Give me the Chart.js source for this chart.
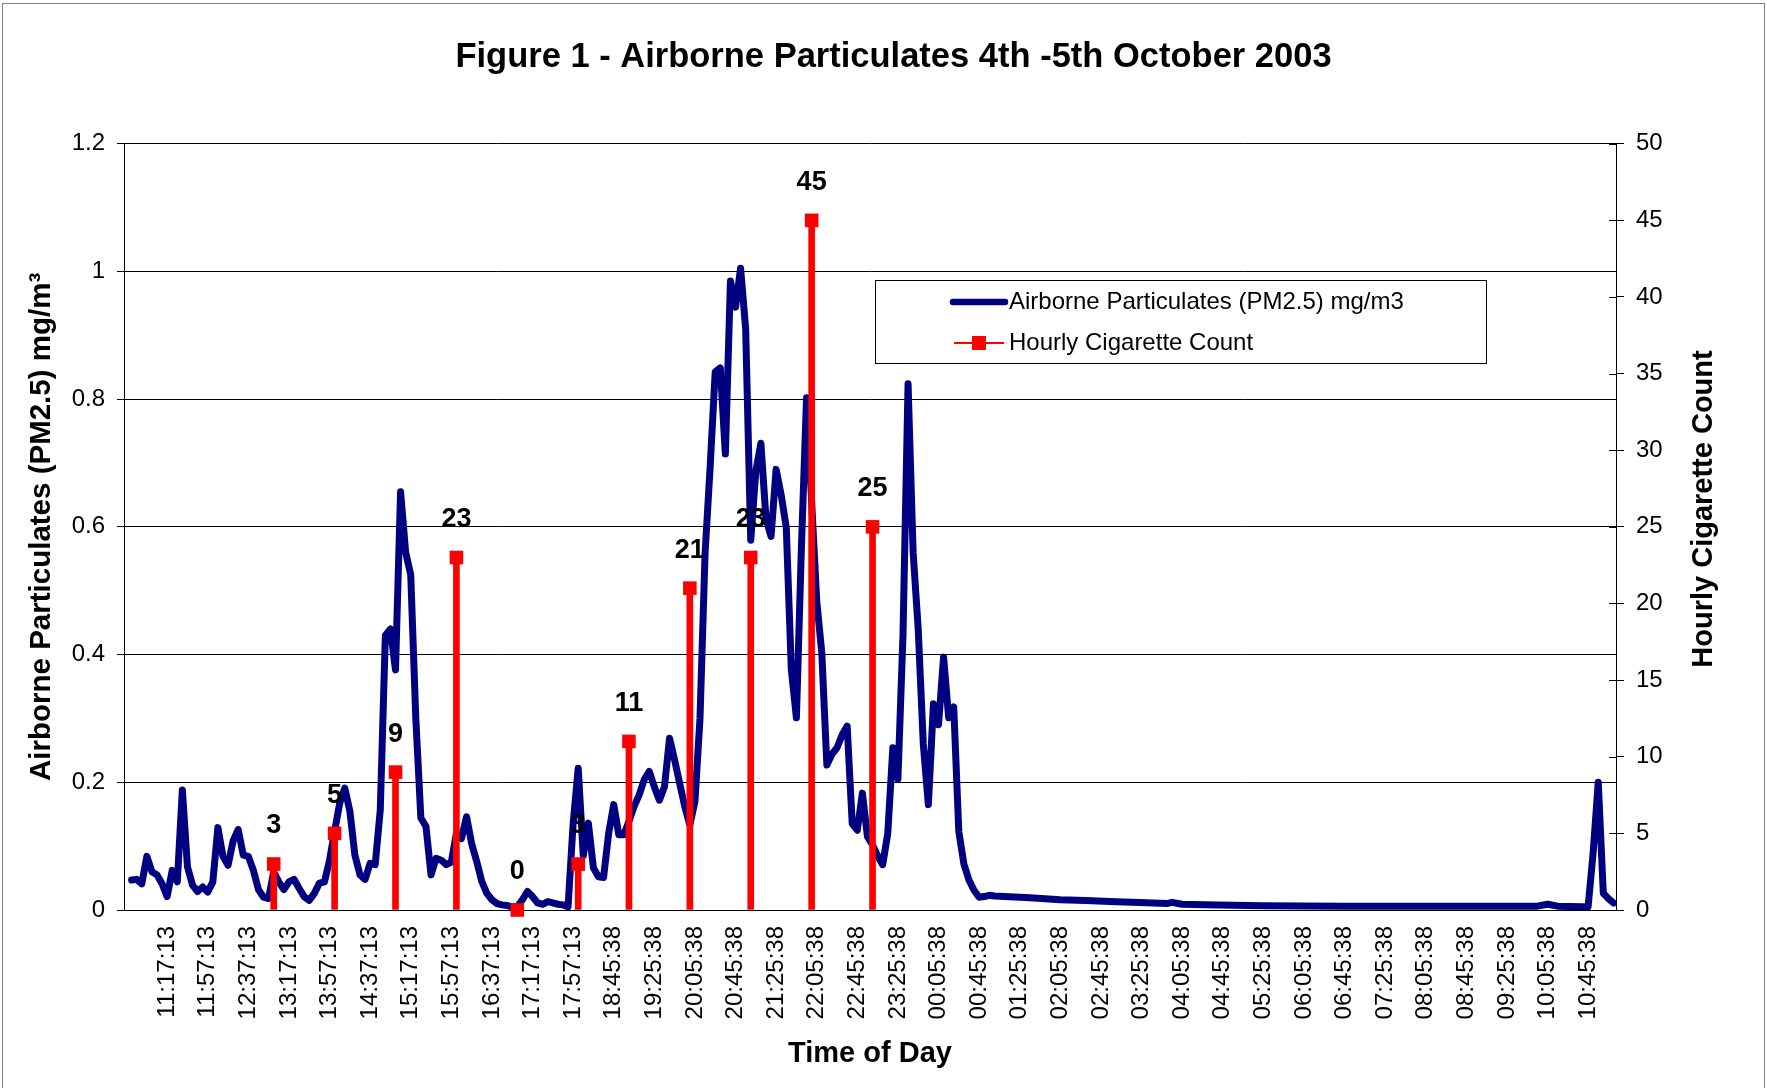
<!DOCTYPE html>
<html>
<head>
<meta charset="utf-8">
<script src="https://cdn.jsdelivr.net/npm/chart.js@4.4.1/dist/chart.umd.min.js"></script>
<style>
html,body{margin:0;padding:0;background:#fff;}
canvas{display:block;}
</style>
</head>
<body>
<canvas id="c" width="1767" height="1088"></canvas>
<script>
// ---------------- DATA ----------------
const chartTitle = 'Figure 1 - Airborne Particulates 4th -5th October 2003';
const pmLabel = 'Airborne Particulates (PM2.5) mg/m3';
const cigLabel = 'Hourly Cigarette Count';

// x-axis tick labels (one every 8 samples, first at sample 8)
const tickLabels = ['11:17:13','11:57:13','12:37:13','13:17:13','13:57:13','14:37:13','15:17:13','15:57:13',
  '16:37:13','17:17:13','17:57:13','18:45:38','19:25:38','20:05:38','20:45:38','21:25:38','22:05:38',
  '22:45:38','23:25:38','00:05:38','00:45:38','01:25:38','02:05:38','02:45:38','03:25:38','04:05:38',
  '04:45:38','05:25:38','06:05:38','06:45:38','07:25:38','08:05:38','08:45:38','09:25:38','10:05:38','10:45:38'];
const sampleCount = 294;
const firstLabelAt = 8;
const labelEvery = 8;

// PM2.5 readings (sample index -> mg/m3)
const pmIndex = [1,2,3,4,5,6,7,8,9,10,11,12,13,14,15,16,17,18,19,20,21,22,23,24,25,26,27,28,29,30,
  31,32,33,34,35,36,37,38,39,40,41,42,43,44,45,46,47,48,49,50,51,52,53,54,55,56,57,58,59,60,
  61,62,63,64,65,66,67,68,69,70,71,72,73,74,75,76,77,78,79,80,81,82,83,84,85,86,87,88,89,90,
  91,92,93,94,95,96,97,98,99,100,101,102,103,104,105,106,107,108,109,110,111,112,113,114,115,116,117,118,119,120,
  121,122,123,124,125,126,127,128,129,130,131,132,133,134,135,136,137,138,139,140,141,142,143,144,145,146,147,148,149,150,
  151,152,153,154,155,156,157,158,159,160,161,162,163,164,165,166,167,168,169,170,171,
  178,184,189,195,201,205,206,208,215,224,240,259,278,280,282,287,288,289,290,291,292,293];
const pmValue = [0.047,0.048,0.041,0.084,0.060,0.055,0.041,0.021,0.062,0.044,0.188,0.068,0.039,0.029,0.036,0.028,0.044,0.129,0.084,0.070,
  0.108,0.126,0.086,0.084,0.062,0.032,0.020,0.018,0.060,0.044,0.032,0.044,0.048,0.034,0.021,0.015,0.026,0.042,0.044,0.078,
  0.123,0.167,0.191,0.155,0.086,0.055,0.048,0.073,0.071,0.157,0.430,0.440,0.376,0.655,0.560,0.525,0.300,0.144,0.131,0.055,
  0.081,0.078,0.071,0.075,0.120,0.112,0.146,0.104,0.076,0.045,0.026,0.016,0.010,0.008,0.007,0.005,0.005,0.016,0.029,0.021,
  0.011,0.009,0.013,0.011,0.009,0.008,0.005,0.135,0.222,0.085,0.136,0.066,0.052,0.051,0.120,0.165,0.118,0.118,0.139,0.162,
  0.180,0.204,0.217,0.193,0.172,0.193,0.269,0.235,0.198,0.162,0.133,0.170,0.300,0.558,0.694,0.843,0.849,0.714,0.985,0.944,
  1.005,0.910,0.579,0.687,0.731,0.613,0.585,0.690,0.650,0.599,0.376,0.301,0.572,0.802,0.640,0.484,0.403,0.227,0.244,0.254,
  0.274,0.288,0.135,0.125,0.183,0.115,0.102,0.085,0.071,0.120,0.254,0.205,0.430,0.824,0.560,0.440,0.260,0.165,0.323,0.290,
  0.396,0.301,0.318,0.123,0.072,0.047,0.031,0.020,0.021,0.023,0.022,
  0.019,0.016,0.015,0.013,0.0115,0.010,0.012,0.009,0.008,0.0067,0.006,0.006,0.006,0.009,0.006,0.005,0.005,0.090,0.200,0.026,0.018,0.011];

// Hourly cigarette counts (sample index -> count)
const cigIndex = [29,41,53,65,77,89,99,111,123,135,147];
const cigCount = [3,5,9,23,0,3,11,21,23,45,25];

// ---------------- STYLE ----------------
const FONT = "'Liberation Sans', Arial, Helvetica, sans-serif";
const NAVY = '#000080';
const RED = '#FF0000';

const pmPoints = pmIndex.map((x, k) => ({x: x, y: pmValue[k]}));
const cigPoints = cigIndex.map((x, k) => ({x: x, y: cigCount[k]}));

const decorPlugin = {
  id: 'decor',
  afterDatasetsDraw(chart) {
    const ctx = chart.ctx;
    const meta = chart.getDatasetMeta(0);
    ctx.save();
    ctx.font = `bold 27px ${FONT}`;
    ctx.fillStyle = '#000';
    ctx.textAlign = 'center';
    ctx.textBaseline = 'middle';
    meta.data.forEach((pt, k) => {
      ctx.fillText(String(cigCount[k]), pt.x, pt.y - 38);
    });
    ctx.restore();
  },
  afterDraw(chart) {
    const ctx = chart.ctx;
    const y1 = chart.scales.y1;
    ctx.save();
    // inner half of the right-axis cross tick marks
    ctx.strokeStyle = '#000';
    ctx.lineWidth = 1;
    y1.ticks.forEach(t => {
      const y = Math.round(y1.getPixelForValue(t.value)) + 0.5;
      ctx.beginPath();
      ctx.moveTo(y1.left - 7, y);
      ctx.lineTo(y1.left, y);
      ctx.stroke();
    });
    // right axis title (reads bottom to top)
    ctx.save();
    ctx.translate(1704, 509);
    ctx.rotate(-Math.PI / 2);
    ctx.font = `bold 29px ${FONT}`;
    ctx.fillStyle = '#000';
    ctx.textAlign = 'center';
    ctx.textBaseline = 'middle';
    ctx.fillText(cigLabel, 0, 0);
    ctx.restore();

    // legend box
    const lx = 875.5, ly = 280.5, lw = 611, lh = 83;
    ctx.fillStyle = '#fff';
    ctx.fillRect(lx, ly, lw, lh);
    ctx.strokeStyle = '#000';
    ctx.lineWidth = 1;
    ctx.strokeRect(lx, ly, lw, lh);
    // row 1: PM line
    ctx.strokeStyle = NAVY;
    ctx.lineWidth = 6.5;
    ctx.lineCap = 'round';
    ctx.beginPath();
    ctx.moveTo(953, 302);
    ctx.lineTo(1005, 302);
    ctx.stroke();
    // row 2: cigarette line + marker
    ctx.strokeStyle = RED;
    ctx.lineWidth = 2;
    ctx.lineCap = 'butt';
    ctx.beginPath();
    ctx.moveTo(954, 343);
    ctx.lineTo(1004, 343);
    ctx.stroke();
    ctx.fillStyle = RED;
    ctx.fillRect(972, 336, 14, 14);
    ctx.font = `24px ${FONT}`;
    ctx.fillStyle = '#000';
    ctx.textAlign = 'left';
    ctx.textBaseline = 'middle';
    ctx.fillText(pmLabel, 1009, 302);
    ctx.fillText(cigLabel, 1009, 343);

    // outer chart border
    ctx.strokeStyle = '#808080';
    ctx.lineWidth = 1;
    ctx.strokeRect(2.5, 3.5, 1762, 1100);
    ctx.restore();
  }
};

new Chart(document.getElementById('c'), {
  type: 'line',
  data: {
    datasets: [
      {
        type: 'line',
        label: cigLabel,
        data: cigPoints,
        yAxisID: 'y1',
        showLine: false,
        pointStyle: 'rect',
        pointRadius: 9.6,
        pointBackgroundColor: RED,
        pointBorderColor: RED,
        pointBorderWidth: 0,
        borderColor: RED,
        order: 0,
        clip: false
      },
      {
        type: 'bar',
        label: cigLabel + ' bars',
        data: cigPoints,
        yAxisID: 'y1',
        backgroundColor: RED,
        borderWidth: 0,
        barThickness: 6,
        order: 1
      },
      {
        type: 'line',
        label: pmLabel,
        data: pmPoints,
        yAxisID: 'y',
        borderColor: NAVY,
        backgroundColor: NAVY,
        borderWidth: 7,
        pointRadius: 0,
        tension: 0,
        borderJoinStyle: 'round',
        borderCapStyle: 'round',
        order: 2
      }
    ]
  },
  options: {
    responsive: false,
    animation: false,
    events: [],
    layout: {padding: {left: 20, right: 0, top: 0, bottom: 0}},
    plugins: {
      legend: {display: false},
      tooltip: {enabled: false},
      title: {
        display: true,
        text: chartTitle,
        color: '#000',
        font: {family: FONT, size: 34.5, weight: 'bold', lineHeight: 1.2},
        padding: {top: 37, bottom: 65.3}
      }
    },
    scales: {
      x: {
        type: 'linear',
        min: -0.5,
        max: sampleCount - 0.5,
        offset: false,
        grid: {display: false, drawTicks: false},
        border: {display: true, color: '#000', width: 1},
        afterBuildTicks: s => { s.ticks = tickLabels.map((_, k) => ({value: firstLabelAt + k * labelEvery})); },
        ticks: {
          autoSkip: false,
          maxRotation: 90,
          minRotation: 90,
          padding: 16,
          color: '#000',
          font: {family: FONT, size: 24},
          callback: v => tickLabels[(v - firstLabelAt) / labelEvery] || ''
        },
        title: {
          display: true,
          text: 'Time of Day',
          color: '#000',
          font: {family: FONT, size: 29, weight: 'bold', lineHeight: 1.2},
          padding: {top: 0, bottom: 17}
        },
        afterFit: s => { s.height = 178; }
      },
      y: {
        position: 'left',
        min: 0,
        max: 1.2,
        ticks: {
          stepSize: 0.2, padding: 12, color: '#000', font: {family: FONT, size: 24},
          callback: v => String(Number(v.toFixed(1)))
        },
        grid: {color: '#000', lineWidth: 1, drawTicks: true, tickLength: 7},
        border: {display: true, color: '#000', width: 1},
        title: {
          display: true,
          text: 'Airborne Particulates (PM2.5) mg/m³',
          color: '#000',
          font: {family: FONT, size: 29.5, weight: 'bold', lineHeight: 1.2},
          padding: {top: 4, bottom: 0}
        },
        afterFit: s => { s.width = 104; }
      },
      y1: {
        position: 'right',
        min: 0,
        max: 50,
        ticks: {stepSize: 5, padding: 12, color: '#000', font: {family: FONT, size: 24}},
        grid: {drawOnChartArea: false, drawTicks: true, tickLength: 8, color: '#000'},
        border: {display: true, color: '#000', width: 1},
        afterFit: s => { s.width = 151; }
      }
    }
  },
  plugins: [decorPlugin]
});
</script>
</body>
</html>
